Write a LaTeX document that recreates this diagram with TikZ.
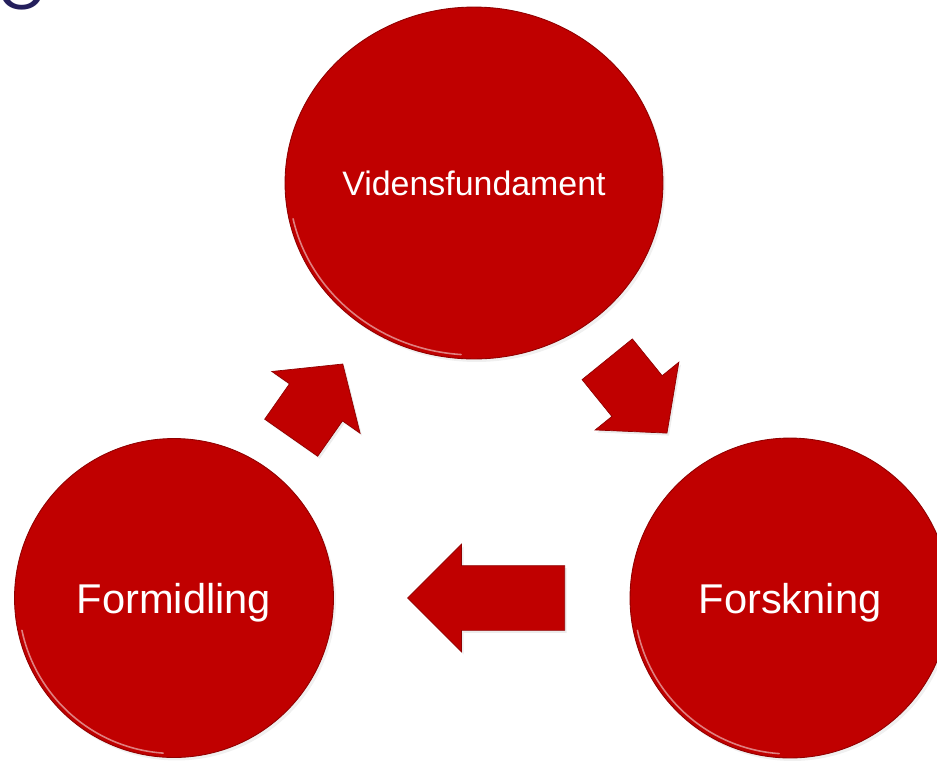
\documentclass[tikz,border=0pt]{standalone}
\usepackage{fontspec}
\setmainfont{Liberation Sans}
\usetikzlibrary{shapes.geometric, shapes.arrows, shadows}

\definecolor{slidered}{RGB}{192,0,0}
\definecolor{slidenavy}{RGB}{36,31,92}

\begin{document}
\begin{tikzpicture}[x=0.02cm, y=-0.02cm,
    disc/.style={draw=slidered!75!black, line width=0.5pt, fill=slidered, text=white,
      inner sep=0pt, text depth=0pt,
      drop shadow={opacity=0.12, shadow xshift=0.5mm, shadow yshift=-0.6mm}},
    rim/.style={white, opacity=0.5, line width=0.9pt, line cap=round},
    blockarrow/.style={single arrow, draw=slidered!75!black, line width=0.4pt, fill=slidered,
      inner xsep=0pt, inner ysep=0.64cm, minimum width=2.14cm, single arrow head extend=0.43cm,
      anchor=tail, drop shadow={opacity=0.15, shadow xshift=0.4mm, shadow yshift=-0.5mm}}]

% picture frame
\useasboundingbox (0, 0) rectangle (937, 762);
\clip (0, 0) rectangle (937, 762);

% cut off slide title
\node[text=slidenavy, font=\fontsize{36}{40}\selectfont, inner sep=0pt, anchor=base west] at (-3, 9) (title) {O};

% the three circles
\node[disc, ellipse, minimum width=7.56cm, minimum height=7.04cm, font=\fontsize{19.3}{23}\selectfont] at (474, 183) (viden) {Vidensfundament};
\node[disc, circle, minimum size=6.38cm, font=\fontsize{23.7}{28}\selectfont] at (174, 598) (formid) {Formidling};
\node[disc, circle, minimum size=6.4cm, font=\fontsize{23.7}{28}\selectfont] at (790, 598) (forsk) {Forskning};

% glossy rims
\draw[rim] (viden.center) ++(192:3.7cm and 3.44cm) arc[start angle=192, end angle=266, x radius=3.7cm, y radius=3.44cm];
\draw[rim] (formid.center) ++(192:3.11cm) arc[start angle=192, end angle=266, radius=3.11cm];
\draw[rim] (forsk.center) ++(192:3.12cm) arc[start angle=192, end angle=266, radius=3.12cm];

% arrows between them (placed at their tails)
\node[blockarrow, minimum height=1.8cm, single arrow tip angle=98, rotate=55] at (291, 438) (upar) {};
\node[blockarrow, minimum height=1.9cm, single arrow tip angle=97, rotate=-51] at (607, 359) (downar) {};
\node[blockarrow, minimum height=3.14cm, rotate=180] at (565, 598) (leftar) {};

\end{tikzpicture}
\end{document}
